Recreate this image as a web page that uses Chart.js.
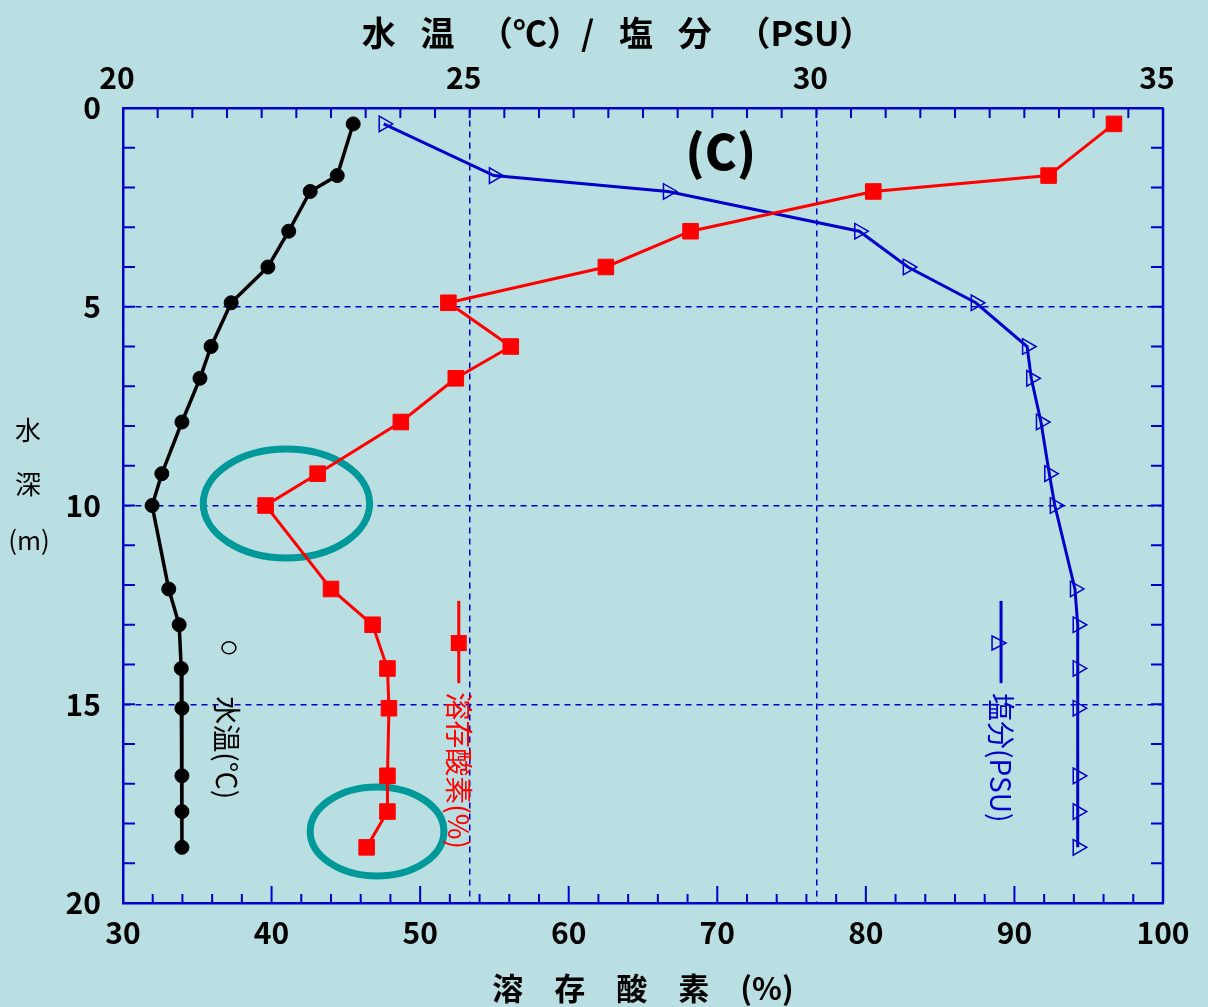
<!DOCTYPE html>
<html lang="ja">
<head>
<meta charset="utf-8">
<title>水温・塩分・溶存酸素 (C)</title>
<script src="https://cdn.jsdelivr.net/npm/chart.js@4.4.1/dist/chart.umd.min.js"></script>
<style>
  html, body { margin: 0; padding: 0; background: #b9dfe2; }
  #wrap { width: 1208px; height: 1007px; }
</style>
</head>
<body>
<div id="wrap"><canvas id="profileChart" width="1208" height="1007"></canvas></div>
<script>
// depth of each sampling point (m)
const depths = [0.4, 1.7, 2.1, 3.1, 4.0, 4.9, 6.0, 6.8, 7.9, 9.2, 10.0, 12.1, 13.0, 14.1, 15.1, 16.8, 17.7, 18.6];
// water temperature (℃) - top axis
const waterTemp = [23.32, 23.09, 22.70, 22.39, 22.09, 21.56, 21.27, 21.11, 20.85, 20.56, 20.42, 20.66, 20.81, 20.84, 20.85, 20.85, 20.85, 20.85];
// salinity (PSU) - top axis
const salinity = [23.76, 25.35, 27.86, 30.62, 31.32, 32.30, 33.04, 33.10, 33.24, 33.36, 33.44, 33.73, 33.77, 33.77, 33.77, 33.77, 33.77, 33.77];
// dissolved oxygen saturation (%) - bottom axis
const dissolvedOxygen = [96.7, 92.3, 80.5, 68.2, 62.5, 51.9, 56.1, 52.4, 48.7, 43.1, 39.6, 44.0, 46.8, 47.8, 47.9, 47.8, 47.8, 46.4];

const doTicks = [30, 40, 50, 60, 70, 80, 90, 100];
const tempSalTicks = [20, 25, 30, 35];
const depthTicks = [0, 5, 10, 15, 20];

const BLUE = '#0000cc';
const RED = '#ff0000';
const TEAL = '#00999a';
const JP = '"Noto Sans CJK JP", "Noto Sans", sans-serif';

const toPoints = (xs) => depths.map((d, i) => ({ x: xs[i], y: d }));
const setTicks = (vals) => (scale) => { scale.ticks = vals.map(v => ({ value: v })); };

// inward ticks, right frame line and the two marked areas
const framePlugin = {
    id: 'frame',
    beforeDatasetsDraw(chart) {
        const { ctx, chartArea: a, scales: { x, x2, y } } = chart;
        ctx.save();
        ctx.strokeStyle = BLUE;
        ctx.lineWidth = 2;
        ctx.beginPath();
        for (let v = 32; v < 100; v += 2) {
            const px = x.getPixelForValue(v);
            const len = v % 10 === 0 ? 17 : 9;
            ctx.moveTo(px, a.bottom);
            ctx.lineTo(px, a.bottom - len);
        }
        for (let v = 20.5; v < 35; v += 0.5) {
            const px = x2.getPixelForValue(v);
            ctx.moveTo(px, a.top);
            ctx.lineTo(px, a.top + 10);
        }
        for (let d = 1; d < 20; d++) {
            const py = y.getPixelForValue(d);
            ctx.moveTo(a.left, py);
            ctx.lineTo(a.left + 12, py);
            ctx.moveTo(a.right, py);
            ctx.lineTo(a.right - 12, py);
        }
        ctx.stroke();
        ctx.lineWidth = 2.5;
        ctx.beginPath();
        ctx.moveTo(a.right, a.top);
        ctx.lineTo(a.right, a.bottom);
        ctx.stroke();

        // highlighted ellipses
        ctx.strokeStyle = TEAL;
        ctx.lineWidth = 7;
        [[41.0, 9.95, 5.6, 1.37], [47.1, 18.2, 4.5, 1.12]].forEach(([cx, cy, rx, ry]) => {
            const px = x.getPixelForValue(cx);
            const py = y.getPixelForValue(cy);
            const prx = x.getPixelForValue(cx + rx) - px;
            const pry = y.getPixelForValue(cy + ry) - py;
            ctx.beginPath();
            ctx.ellipse(px, py, prx, pry, 0, 0, Math.PI * 2);
            ctx.stroke();
        });
        ctx.restore();
    },
    afterDatasetsDraw(chart) {
        const { ctx, scales: { x, x2, y } } = chart;
        ctx.save();

        // panel label
        ctx.fillStyle = '#000';
        ctx.font = '900 48px ' + JP;
        ctx.textAlign = 'center';
        ctx.textBaseline = 'middle';
        ctx.fillText('(C)', x2.getPixelForValue(28.62), y.getPixelForValue(1.1));

        // y axis title, stacked
        ctx.font = '26px ' + JP;
        ctx.fillText('水', 28, 430);
        ctx.fillText('深', 28, 484);
        ctx.fillText('(m)', 29, 540);

        const rotText = (text, px, py, color) => {
            ctx.save();
            ctx.translate(px, py);
            ctx.rotate(Math.PI / 2);
            ctx.fillStyle = color;
            ctx.font = '28px ' + JP;
            ctx.textAlign = 'left';
            ctx.textBaseline = 'middle';
            ctx.fillText(text, 0, 0);
            ctx.restore();
        };

        // in-plot legend: water temperature
        ctx.strokeStyle = '#000';
        ctx.lineWidth = 1.5;
        ctx.beginPath();
        ctx.ellipse(x.getPixelForValue(37.13), y.getPixelForValue(13.58), 7, 6, 0, 0, Math.PI * 2);
        ctx.stroke();
        rotText('水温(℃)', x.getPixelForValue(37.0), y.getPixelForValue(14.8), '#000');

        // dissolved oxygen
        const rx = x.getPixelForValue(52.6);
        ctx.strokeStyle = RED;
        ctx.lineWidth = 3;
        ctx.beginPath();
        ctx.moveTo(rx, y.getPixelForValue(12.4));
        ctx.lineTo(rx, y.getPixelForValue(14.47));
        ctx.stroke();
        ctx.fillStyle = RED;
        const ry = y.getPixelForValue(13.46);
        ctx.fillRect(rx - 8, ry - 8, 16, 16);
        rotText('溶存酸素(%)', rx, y.getPixelForValue(14.7), RED);

        // salinity
        const bx = x.getPixelForValue(89.1);
        ctx.strokeStyle = BLUE;
        ctx.lineWidth = 3;
        ctx.beginPath();
        ctx.moveTo(bx, y.getPixelForValue(12.4));
        ctx.lineTo(bx, y.getPixelForValue(14.47));
        ctx.stroke();
        const tx = x.getPixelForValue(88.83);
        const ty = y.getPixelForValue(13.46);
        ctx.lineWidth = 1.5;
        ctx.beginPath();
        ctx.moveTo(tx - 5, ty - 7);
        ctx.lineTo(tx + 9, ty);
        ctx.lineTo(tx - 5, ty + 7);
        ctx.closePath();
        ctx.stroke();
        rotText('塩分(PSU)', bx, y.getPixelForValue(14.72), BLUE);

        ctx.restore();
    }
};

const ctx = document.getElementById('profileChart').getContext('2d');
const profileChart = new Chart(ctx, {
    type: 'line',
    data: {
        datasets: [{
            label: '水温(℃)',
            xAxisID: 'x2',
            data: toPoints(waterTemp),
            borderColor: '#000',
            backgroundColor: '#000',
            borderWidth: 3.5,
            pointStyle: 'circle',
            pointRadius: 7,
            pointBorderWidth: 1
        }, {
            label: '溶存酸素(%)',
            xAxisID: 'x',
            data: toPoints(dissolvedOxygen),
            borderColor: RED,
            backgroundColor: RED,
            borderWidth: 3,
            pointStyle: 'rect',
            pointRadius: 11,
            pointBorderWidth: 1
        }, {
            label: '塩分(PSU)',
            xAxisID: 'x2',
            data: toPoints(salinity),
            borderColor: BLUE,
            backgroundColor: 'rgba(0,0,0,0)',
            borderWidth: 3,
            pointStyle: 'triangle',
            pointRotation: 90,
            pointRadius: 9,
            pointBorderWidth: 1.5,
            pointBorderColor: BLUE,
            pointBackgroundColor: 'rgba(0,0,0,0)'
        }]
    },
    options: {
        responsive: false,
        animation: false,
        layout: { padding: { left: 0, top: 0, right: 45, bottom: 0 } },
        plugins: {
            legend: { display: false },
            tooltip: { enabled: false }
        },
        scales: {
            x: {
                type: 'linear',
                position: 'bottom',
                min: 30,
                max: 100,
                afterBuildTicks: setTicks(doTicks),
                afterFit: (s) => { s.height = 104; },
                grid: { display: false, drawTicks: false, tickLength: 0 },
                border: { display: true, color: BLUE, width: 2.5 },
                ticks: { color: '#000', padding: 12, maxRotation: 0, font: { family: JP, size: 30, weight: 'bold' } },
                title: {
                    display: true,
                    text: '溶　存　酸　素　(%)',
                    color: '#000',
                    padding: { top: 0, bottom: 0 },
                    font: { family: JP, size: 31, weight: 'bold' }
                }
            },
            x2: {
                type: 'linear',
                position: 'top',
                min: 20,
                max: 35,
                afterBuildTicks: setTicks(tempSalTicks),
                afterFit: (s) => { s.height = 108; },
                grid: {
                    drawTicks: false,
                    tickLength: 0,
                    lineWidth: 1.5,
                    color: (c) => (c.tick && (c.tick.value === 25 || c.tick.value === 30)) ? BLUE : 'rgba(0,0,0,0)'
                },
                border: { display: true, color: BLUE, width: 2.5, dash: [6, 5] },
                ticks: { color: '#000', padding: 12, maxRotation: 0, labelOffset: -6, font: { family: JP, size: 30, weight: 'bold' } },
                title: {
                    display: true,
                    text: '水 \u2002温 \u2002（℃）/ \u2002塩 \u2002分 \u2002（PSU）\u3000\u3000',
                    color: '#000',
                    padding: { top: 13, bottom: 0 },
                    font: { family: JP, size: 34, weight: 'bold' }
                }
            },
            y: {
                type: 'linear',
                reverse: true,
                min: 0,
                max: 20,
                afterBuildTicks: setTicks(depthTicks),
                afterFit: (s) => { s.width = 123; },
                grid: {
                    drawTicks: false,
                    tickLength: 0,
                    lineWidth: 1.5,
                    color: (c) => (c.tick && c.tick.value > 0 && c.tick.value < 20) ? BLUE : 'rgba(0,0,0,0)'
                },
                border: { display: true, color: BLUE, width: 2.5, dash: [6, 5] },
                ticks: { color: '#000', padding: 22, font: { family: JP, size: 30, weight: 'bold' } }
            }
        }
    },
    plugins: [framePlugin]
});
</script>
</body>
</html>
